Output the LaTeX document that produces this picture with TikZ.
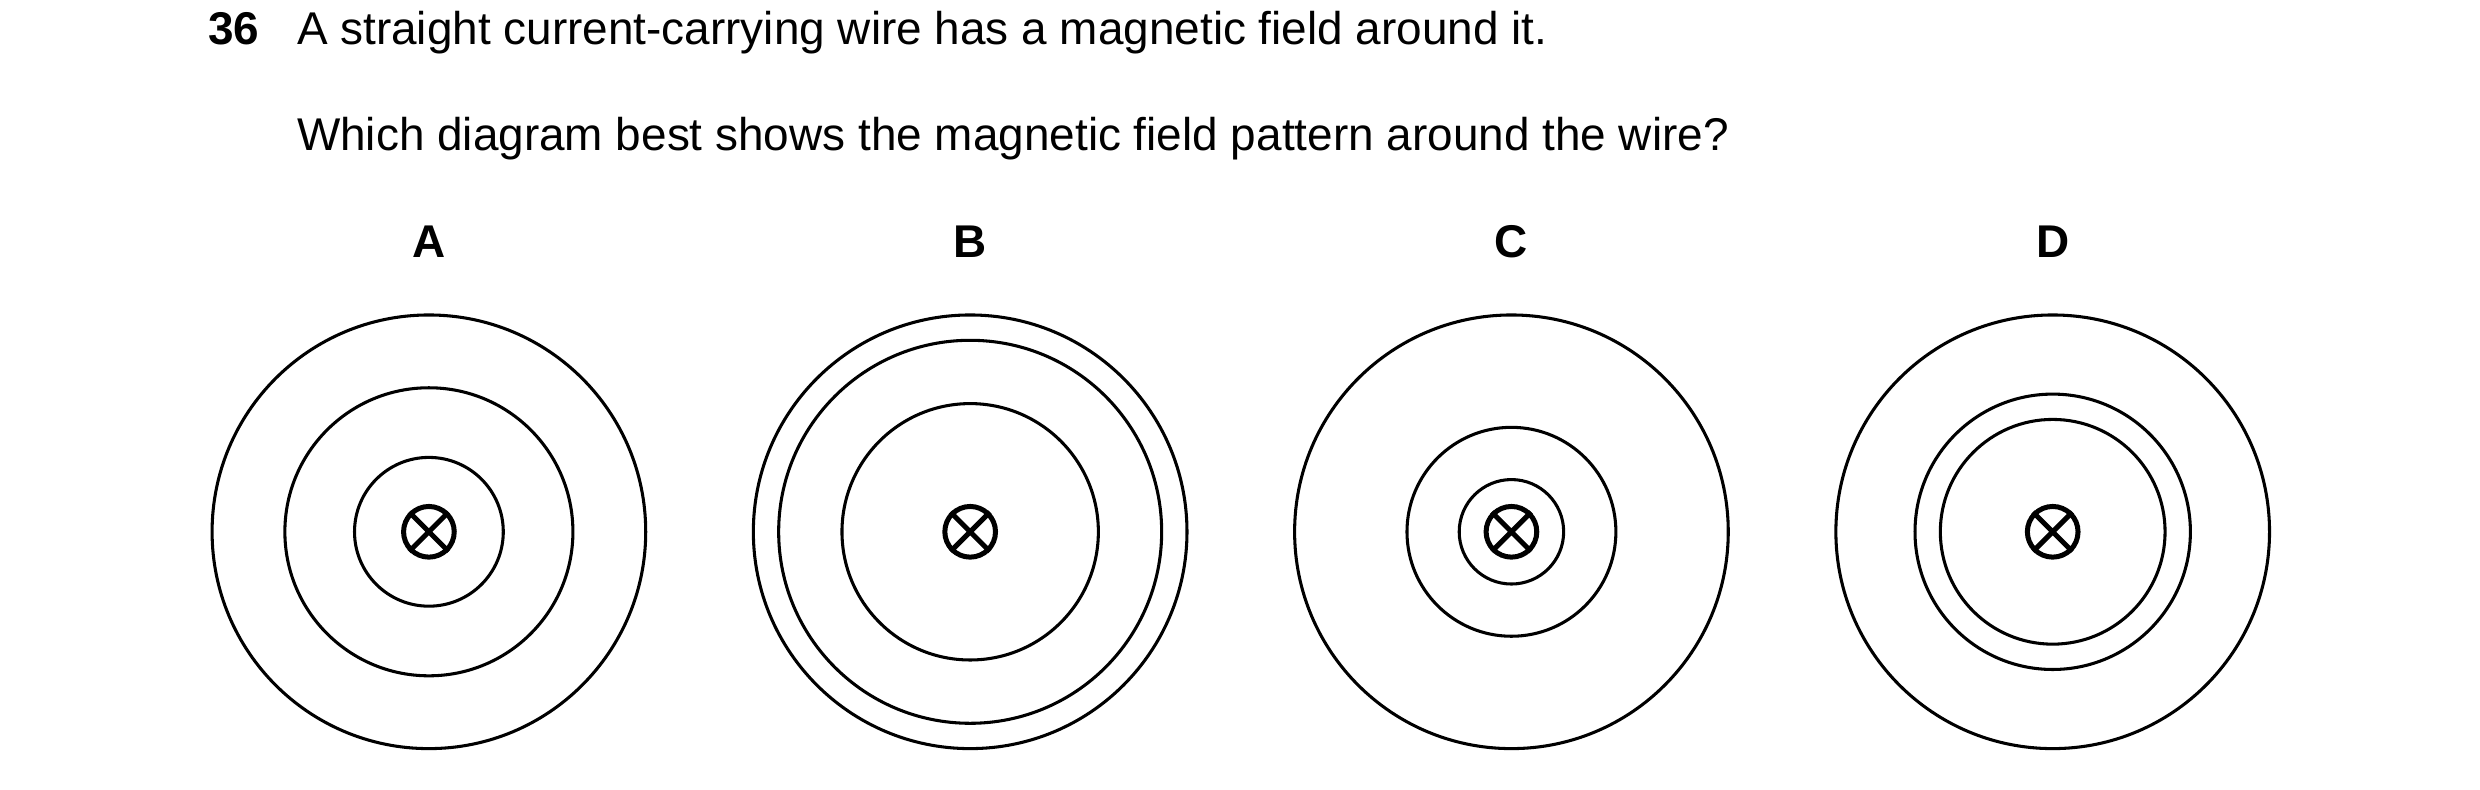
\documentclass[tikz,border=0pt]{standalone}
\usepackage{fontspec}
\setmainfont{Liberation Sans}
\usetikzlibrary{positioning}
\begin{document}
\begin{tikzpicture}[
                    x = 0.01cm, y = -0.01cm, % one unit per reference pixel
                    font = \fontsize{8.25}{10}\selectfont,
                    field/.style = {line width = 0.55pt},
                    wire/.style = {circle, draw, line width = 0.9pt, minimum size = 0.32cm, inner sep = 0pt},
                    letter/.style = {font = \fontsize{8.25}{10}\selectfont\bfseries}
            ]
            \useasboundingbox (0,0) rectangle (1567,499);

            \node[anchor = base west, inner sep = 0pt, font = \fontsize{8.25}{10}\selectfont\bfseries] (num) at (131,28) {36};
            \node[anchor = base west, inner sep = 0pt] (q1) at (187,28) {A straight current-carrying wire has a magnetic field around it.};
            \node[anchor = base west, inner sep = 0pt] (q2) at (187,95) {Which diagram best shows the magnetic field pattern around the wire?};

            % wires, each with its field circles
            \foreach \name/\x/\radii in {A/271/{137,91,47}, B/613/{137,121,81}, C/955/{137,66,33}, D/1297/{137,87,71}} {
                \node[letter] (L\name) at (\x,153) {\name};
                \node[wire] (W\name) at (\x,336) {};
                \draw[line width = 0.9pt] (W\name.45) -- (W\name.225) (W\name.135) -- (W\name.315);
                \foreach \r in \radii
                    \draw[field] (W\name.center) circle[radius = \r*0.01cm];
            }
        \end{tikzpicture}
\end{document}
